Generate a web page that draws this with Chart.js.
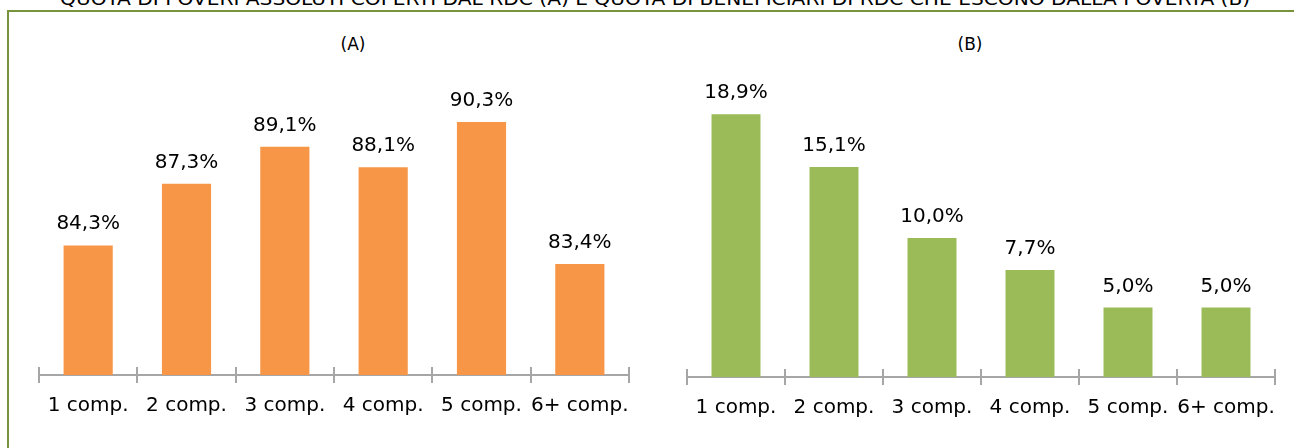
<!DOCTYPE html>
<html>
<head>
<meta charset="utf-8">
<script src="https://cdn.jsdelivr.net/npm/chart.js@4.4.0/dist/chart.umd.min.js"></script>
<style>
  body { margin: 0; background: #fff; }
  #wrap { position: relative; width: 1294px; height: 448px; overflow: hidden; background: #fff; }
  #titolo { position: absolute; left: 60px; top: -12px; white-space: nowrap; font-family: "Liberation Sans Narrow", "DejaVu Sans Condensed", sans-serif; font-size: 18px; color: #000; transform-origin: 0 0; }
  #cornice { position: absolute; left: 7px; top: 10px; width: 1300px; height: 450px; border-top: 2px solid #77933C; border-left: 2px solid #77933C; }
  .sub { position: absolute; top: 34px; font-family: "DejaVu Sans", sans-serif; font-size: 17px; color: #000; transform: translateX(-50%); }
  canvas { position: absolute; top: 0; }
</style>
</head>
<body>
<div id="wrap">
  <div id="titolo">QUOTA DI POVERI ASSOLUTI COPERTI DAL RDC (A) E QUOTA DI BENEFICIARI DI RDC CHE ESCONO DALLA POVERTÀ (B)</div>
  <div id="cornice"></div>
  <div class="sub" style="left:353px">(A)</div>
  <div class="sub" style="left:970px">(B)</div>
  <canvas id="chartA" style="left:0px" width="660" height="448"></canvas>
  <canvas id="chartB" style="left:660px" width="634" height="448"></canvas>
</div>
<script>
// dati
const categorie = ['1 comp.', '2 comp.', '3 comp.', '4 comp.', '5 comp.', '6+ comp.'];
const quotaCoperti = [84.3, 87.3, 89.1, 88.1, 90.3, 83.4];   // (A)
const quotaUsciti = [18.9, 15.1, 10.0, 7.7, 5.0, 5.0];        // (B)

// larghezza titolo come nell'originale
const t = document.getElementById('titolo');
t.style.transform = 'scaleX(' + (1190 / t.offsetWidth) + ')';

const grigio = '#A6A6A6';

// etichette sopra le barre + tacche sopra l'asse
const etichette = {
  id: 'etichette',
  afterDatasetsDraw(chart) {
    const ctx = chart.ctx;
    const meta = chart.getDatasetMeta(0);
    const valori = chart.data.datasets[0].data;
    ctx.save();
    ctx.fillStyle = '#000';
    ctx.font = '20px "DejaVu Sans"';
    ctx.textAlign = 'center';
    ctx.textBaseline = 'alphabetic';
    meta.data.forEach((bar, i) => {
      const txt = valori[i].toFixed(1).replace('.', ',') + '%';
      ctx.fillText(txt, bar.x, bar.y - 16);
    });
    // tacche verso l'alto
    const x = chart.scales.x;
    const n = chart.data.labels.length;
    const y0 = chart.chartArea.bottom;
    ctx.strokeStyle = grigio;
    ctx.lineWidth = 2;
    for (let i = 0; i <= n; i++) {
      const px = Math.round(x.left + i * x.width / n);
      ctx.beginPath();
      ctx.moveTo(px, y0 - 8);
      ctx.lineTo(px, y0);
      ctx.stroke();
    }
    ctx.restore();
  }
};

function opzioni(min, max, padding) {
  return {
    responsive: false,
    animation: false,
    layout: { padding: padding },
    plugins: { legend: { display: false }, tooltip: { enabled: false } },
    scales: {
      x: {
        grid: { display: true, drawOnChartArea: false, drawTicks: true, tickLength: 8, color: grigio, lineWidth: 2 },
        border: { display: true, color: grigio, width: 2 },
        ticks: { color: '#000', font: { family: 'DejaVu Sans', size: 20 }, padding: 11, maxRotation: 0, autoSkip: false }
      },
      y: { display: false, min: min, max: max }
    }
  };
}

new Chart(document.getElementById('chartA'), {
  type: 'bar',
  data: {
    labels: categorie,
    datasets: [{ data: quotaCoperti, backgroundColor: '#F79646', categoryPercentage: 1, barPercentage: 0.5 }]
  },
  options: opzioni(78, 92, { top: 87, bottom: 19, left: 39, right: 31 }),
  plugins: [etichette]
});

new Chart(document.getElementById('chartB'), {
  type: 'bar',
  data: {
    labels: categorie,
    datasets: [{ data: quotaUsciti, backgroundColor: '#9BBB59', categoryPercentage: 1, barPercentage: 0.5 }]
  },
  options: opzioni(0, 20, { top: 99, bottom: 17, left: 27, right: 19 }),
  plugins: [etichette]
});
</script>
</body>
</html>
